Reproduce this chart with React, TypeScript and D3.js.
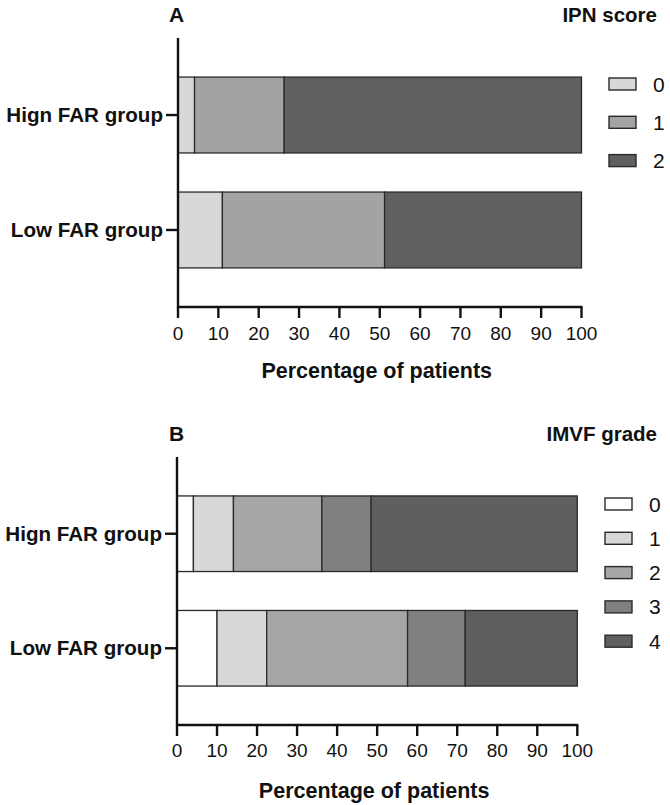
import React, { useEffect, useRef } from 'react';
import * as d3 from 'd3';

// Groups and percentage breakdowns
const groups = ['Hign FAR group', 'Low FAR group'];
const xTicks = [0, 10, 20, 30, 40, 50, 60, 70, 80, 90, 100];

const ipnScores = ['0', '1', '2'];
const ipnHigh = [4.1, 22.2, 73.7];
const ipnLow = [11.0, 40.2, 48.8];
const ipnColors = ['#d8d8d8', '#a3a3a6', '#606060'];

const imvfGrades = ['0', '1', '2', '3', '4'];
const imvfHigh = [4.1, 10.0, 22.1, 12.3, 51.5];
const imvfLow = [10.0, 12.4, 35.2, 14.4, 28.0];
const imvfColors = ['#ffffff', '#d8d8d8', '#a6a6a8', '#808080', '#5f5f5f'];

const FONT = '"Liberation Sans", Arial, Helvetica, sans-serif';

type PanelOpts = {
  letter: string;
  title: string;
  keys: string[];
  rows: number[][];
  colors: string[];
  yTop: number;
  yBottom: number;
  xLeft: number;
  xRight: number;
  headerY: number;
  legendX: number;
  legendY: number;
  legendStep: number;
  tickLabelY: number;
  axisTitleY: number;
};

function drawPanel(root: d3.Selection<SVGGElement, unknown, null, undefined>, o: PanelOpts) {
  const g = root.append('g');

  const x = d3.scaleLinear().domain([0, 100]).range([o.xLeft, o.xRight]);
  const y = d3.scaleBand<string>().domain(groups).range([o.yTop, o.yBottom]).padding(0.34);

  // stack segments for each group
  const table = groups.map((grp, i) => {
    const rec: any = { group: grp };
    o.keys.forEach((k, j) => { rec[k] = o.rows[i][j]; });
    return rec;
  });
  const series = d3.stack<any>().keys(o.keys)(table);

  series.forEach((s, si) => {
    g.append('g')
      .selectAll('rect')
      .data(s)
      .enter()
      .append('rect')
      .attr('x', d => x(d[0]))
      .attr('y', d => y(d.data.group)!)
      .attr('width', d => x(d[1]) - x(d[0]))
      .attr('height', y.bandwidth())
      .attr('fill', o.colors[si])
      .attr('stroke', '#2a2a2a')
      .attr('stroke-width', 1.3);
  });

  // y axis
  g.append('line')
    .attr('x1', o.xLeft).attr('x2', o.xLeft)
    .attr('y1', o.yTop).attr('y2', o.yBottom + 1)
    .attr('stroke', '#111').attr('stroke-width', 2.4);
  groups.forEach(grp => {
    const cy = y(grp)! + y.bandwidth() / 2;
    g.append('line')
      .attr('x1', o.xLeft - 12).attr('x2', o.xLeft)
      .attr('y1', cy).attr('y2', cy)
      .attr('stroke', '#111').attr('stroke-width', 2.4);
    g.append('text')
      .attr('x', o.xLeft - 15)
      .attr('y', cy)
      .attr('dy', '0.35em')
      .attr('text-anchor', 'end')
      .attr('font-family', FONT)
      .attr('font-weight', 'bold')
      .attr('font-size', 20.6)
      .attr('fill', '#111')
      .text(grp);
  });

  // x axis
  g.append('line')
    .attr('x1', o.xLeft - 1).attr('x2', o.xRight + 1)
    .attr('y1', o.yBottom).attr('y2', o.yBottom)
    .attr('stroke', '#111').attr('stroke-width', 2.4);
  xTicks.forEach(t => {
    g.append('line')
      .attr('x1', x(t)).attr('x2', x(t))
      .attr('y1', o.yBottom).attr('y2', o.yBottom + 11)
      .attr('stroke', '#111').attr('stroke-width', 2.4);
    g.append('text')
      .attr('x', x(t))
      .attr('y', o.tickLabelY)
      .attr('text-anchor', 'middle')
      .attr('font-family', FONT)
      .attr('font-size', 19)
      .attr('fill', '#111')
      .text(t);
  });

  g.append('text')
    .attr('x', (o.xLeft + o.xRight) / 2 - 3)
    .attr('y', o.axisTitleY)
    .attr('text-anchor', 'middle')
    .attr('font-family', FONT)
    .attr('font-weight', 'bold')
    .attr('font-size', 21.5)
    .attr('fill', '#111')
    .text('Percentage of patients');

  // panel letter and legend heading
  g.append('text')
    .attr('x', 169).attr('y', o.headerY)
    .attr('font-family', FONT).attr('font-weight', 'bold')
    .attr('font-size', 21).attr('fill', '#111')
    .text(o.letter);
  g.append('text')
    .attr('x', 657).attr('y', o.headerY)
    .attr('text-anchor', 'end')
    .attr('font-family', FONT).attr('font-weight', 'bold')
    .attr('font-size', 20.5).attr('fill', '#111')
    .text(o.title);

  const legend = g.selectAll('.legend')
    .data(o.keys)
    .enter()
    .append('g')
    .attr('class', 'legend')
    .attr('transform', (d, i) => `translate(${o.legendX},${o.legendY + i * o.legendStep})`);
  legend.append('rect')
    .attr('x', 0).attr('y', -6)
    .attr('width', 27).attr('height', 12)
    .attr('fill', (d, i) => o.colors[i])
    .attr('stroke', '#2a2a2a')
    .attr('stroke-width', 1.4);
  legend.append('text')
    .attr('x', 44).attr('y', 0)
    .attr('dy', '0.36em')
    .attr('font-family', FONT)
    .attr('font-size', 21)
    .attr('fill', '#111')
    .text(d => d);
}

const App = () => {
  const svgRef = useRef<SVGSVGElement>(null);

  useEffect(() => {
    const svg = d3.select(svgRef.current);
    svg.selectAll('*').remove();
    svg.append('rect').attr('width', 670).attr('height', 805).attr('fill', '#fff');
    const root = svg.append('g');

    drawPanel(root as any, {
      letter: 'A', title: 'IPN score', keys: ipnScores,
      rows: [ipnHigh, ipnLow], colors: ipnColors,
      yTop: 38, yBottom: 307, xLeft: 178, xRight: 581.5,
      headerY: 22, legendX: 609, legendY: 84, legendStep: 38.3,
      tickLabelY: 340, axisTitleY: 378,
    });

    drawPanel(root as any, {
      letter: 'B', title: 'IMVF grade', keys: imvfGrades,
      rows: [imvfHigh, imvfLow], colors: imvfColors,
      yTop: 457, yBottom: 725, xLeft: 177, xRight: 577.3,
      headerY: 441, legendX: 605, legendY: 504, legendStep: 34.3,
      tickLabelY: 757, axisTitleY: 798,
    });
  }, []);

  return (
    <svg
      ref={svgRef}
      width={670}
      height={805}
      style={{ position: 'absolute', left: 0, top: 0, display: 'block' }}
    />
  );
};

export default App;
